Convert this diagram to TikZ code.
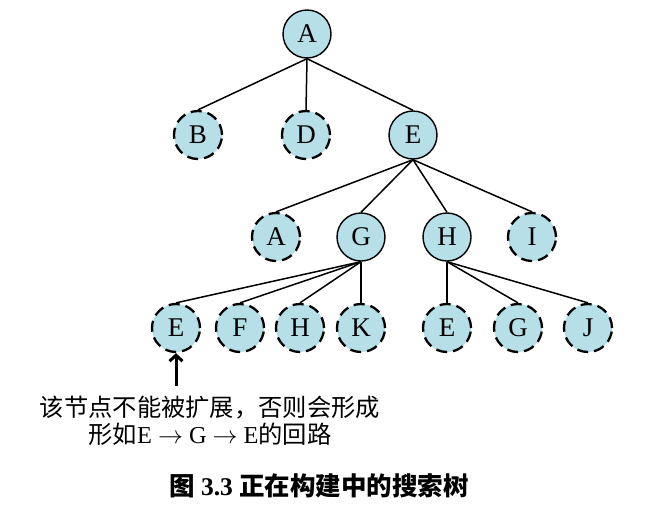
\documentclass[tikz,border=0pt]{standalone}
\usepackage{fontspec}
\setmainfont{Liberation Serif}
\newfontfamily\cjk{Noto Sans CJK SC}
\usetikzlibrary{arrows.meta}

\begin{document}
\begin{tikzpicture}[x=1pt,y=-1pt,
		opened/.style={circle,draw,line width=1.4pt,fill=nodeblue,minimum size=48pt,inner sep=0pt,font=\fontsize{27}{32}\selectfont},
		leaf/.style={opened,line width=2.3pt,dash pattern=on 11pt off 6pt},
		branch/.style={line width=1.5pt}]
			\definecolor{nodeblue}{RGB}{183,223,232}
			\useasboundingbox (0,0) rectangle (654,512);
			% tree
			\node [opened] (nA) at (307,34) {A};
			\node [leaf] (nB) at (198,135) {B};
			\node [leaf] (nD) at (306,135) {D};
			\node [opened] (nE) at (413,135) {E};
			\node [leaf] (nA2) at (276,237) {A};
			\node [opened] (nG) at (361,237) {G};
			\node [opened] (nH) at (447,237) {H};
			\node [leaf] (nI) at (532,237) {I};
			\node [leaf] (nE3) at (176,328) {E};
			\node [leaf] (nF) at (240,328) {F};
			\node [leaf] (nH3) at (300,328) {H};
			\node [leaf] (nK) at (361,328) {K};
			\node [leaf] (nE4) at (447,328) {E};
			\node [leaf] (nG4) at (518,328) {G};
			\node [leaf] (nJ) at (588,328) {J};
			\draw [branch] (nA.south) -- (nB.north);
			\draw [branch] (nA.south) -- (nD.north);
			\draw [branch] (nA.south) -- (nE.north);
			\draw [branch] (nE.south) -- (nA2.north);
			\draw [branch] (nE.south) -- (nG.north);
			\draw [branch] (nE.south) -- (nH.north);
			\draw [branch] (nE.south) -- (nI.north);
			\draw [branch] (nG.south) -- (nE3.north);
			\draw [branch] (nG.south) -- (nF.north);
			\draw [branch] (nG.south) -- (nH3.north);
			\draw [branch] (nG.south) -- (nK.north);
			\draw [branch] (nH.south) -- (nE4.north);
			\draw [branch] (nH.south) -- (nG4.north);
			\draw [branch] (nH.south) -- (nJ.north);
			% note on the repeated E
			\coordinate (tail) at (176,386);
			\draw [line width=3pt,-{Straight Barb[length=6pt,width=13pt]}] (tail) -- (nE3.south);
			\node [font=\fontsize{24.3}{27}\selectfont,align=center] (note) at (210,421)
				{\cjk 该节点不能被扩展，否则会形成\\\cjk 形如{\rmfamily E $\rightarrow$ G $\rightarrow$ E}的回路};
			\node [font=\fontsize{25.5}{30}\bfseries\selectfont] (caption) at (319,486)
				{{\cjk 图} 3.3 {\cjk 正在构建中的搜索树}};
		\end{tikzpicture}
\end{document}
